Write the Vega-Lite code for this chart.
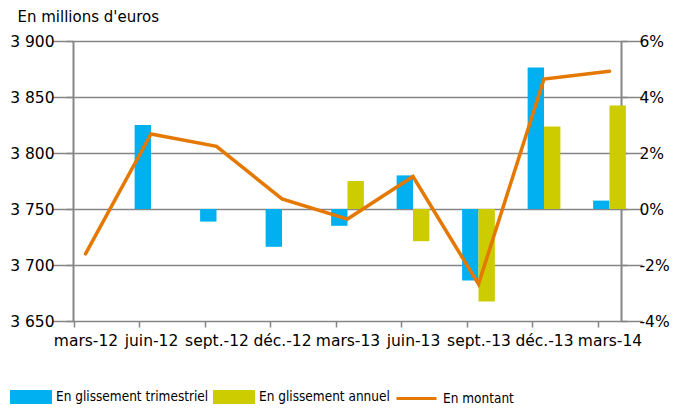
{
  "$schema": "https://vega.github.io/schema/vega-lite/v6.json",
  "width": 548,
  "height": 280,
  "autosize": {"type": "none"},
  "padding": {"left": 73, "top": 41, "right": 67, "bottom": 88},
  "background": "white",
  "config": {
    "view": {"stroke": null},
    "font": "DejaVu Sans",
    "axis": {
      "labelFont": "DejaVu Sans",
      "labelFontSize": 15.5,
      "labelColor": "#000000",
      "domainColor": "#868686",
      "tickColor": "#868686",
      "gridColor": "#868686"
    }
  },
  "datasets": {
    "barres": [
      {"mois": "juin-12", "serie": "En glissement trimestriel", "valeur": 3.0},
      {"mois": "sept.-12", "serie": "En glissement trimestriel", "valeur": -0.45},
      {"mois": "déc.-12", "serie": "En glissement trimestriel", "valeur": -1.35},
      {"mois": "mars-13", "serie": "En glissement trimestriel", "valeur": -0.6},
      {"mois": "mars-13", "serie": "En glissement annuel", "valeur": 1.0},
      {"mois": "juin-13", "serie": "En glissement trimestriel", "valeur": 1.2},
      {"mois": "juin-13", "serie": "En glissement annuel", "valeur": -1.15},
      {"mois": "sept.-13", "serie": "En glissement trimestriel", "valeur": -2.55},
      {"mois": "sept.-13", "serie": "En glissement annuel", "valeur": -3.3},
      {"mois": "déc.-13", "serie": "En glissement trimestriel", "valeur": 5.05},
      {"mois": "déc.-13", "serie": "En glissement annuel", "valeur": 2.95},
      {"mois": "mars-14", "serie": "En glissement trimestriel", "valeur": 0.3},
      {"mois": "mars-14", "serie": "En glissement annuel", "valeur": 3.7}
    ],
    "montants": [
      {"mois": "mars-12", "montant": 3710},
      {"mois": "juin-12", "montant": 3817},
      {"mois": "sept.-12", "montant": 3806},
      {"mois": "déc.-12", "montant": 3759},
      {"mois": "mars-13", "montant": 3741},
      {"mois": "juin-13", "montant": 3779},
      {"mois": "sept.-13", "montant": 3683},
      {"mois": "déc.-13", "montant": 3866},
      {"mois": "mars-14", "montant": 3873}
    ]
  },
  "encoding": {
    "x": {
      "field": "mois",
      "type": "nominal",
      "sort": null,
      "scale": {
        "domain": ["mars-12", "juin-12", "sept.-12", "déc.-12", "mars-13", "juin-13", "sept.-13", "déc.-13", "mars-14"],
        "range": [-20.25, 569.25],
        "paddingInner": 0,
        "paddingOuter": 0
      },
      "axis": {
        "title": null,
        "domain": false,
        "labelAngle": 0,
        "tickSize": 6,
        "tickWidth": 1.5,
        "tickOffset": -12,
        "labelOffset": 12,
        "labelPadding": 6,
        "labelLimit": 200
      }
    }
  },
  "layer": [
    {
      "data": {"name": "barres"},
      "mark": {"type": "bar"},
      "encoding": {
        "xOffset": {
          "field": "serie",
          "type": "nominal",
          "scale": {
            "domain": ["En glissement trimestriel", "En glissement annuel"],
            "paddingInner": 0,
            "paddingOuter": 1.18
          }
        },
        "y": {
          "field": "valeur",
          "type": "quantitative",
          "scale": {"domain": [-4, 6], "nice": false, "zero": false},
          "axis": {
            "orient": "right",
            "title": null,
            "values": [-4, -2, 0, 2, 4, 6],
            "labelExpr": "datum.value + '%'",
            "grid": false,
            "domainWidth": 2,
            "tickSize": 6,
            "tickWidth": 1.5,
            "labelPadding": 12
          }
        },
        "color": {
          "field": "serie",
          "type": "nominal",
          "scale": {
            "domain": ["En glissement trimestriel", "En glissement annuel"],
            "range": ["#00B0F0", "#CCCC00"]
          },
          "legend": {
            "orient": "none",
            "legendX": -63,
            "legendY": 335,
            "direction": "horizontal",
            "title": null,
            "symbolType": "M-1,-0.333H1V0.333H-1Z",
            "symbolSize": 1764,
            "symbolStrokeWidth": 0,
            "symbolOpacity": 1,
            "labelFont": "DejaVu Sans Condensed, DejaVu Sans",
            "labelFontSize": 13.5,
            "labelColor": "#000000",
            "labelOffset": 4,
            "columnPadding": 4,
            "labelLimit": 300
          }
        }
      }
    },
    {
      "data": {"name": "montants"},
      "mark": {"type": "line", "strokeWidth": 3.5, "strokeCap": "round"},
      "encoding": {
        "y": {
          "field": "montant",
          "type": "quantitative",
          "scale": {"domain": [3650, 3900], "nice": false, "zero": false},
          "axis": {
            "orient": "left",
            "title": "En millions d'euros",
            "titleAngle": 0,
            "titleX": -56,
            "titleY": -20,
            "titleAlign": "left",
            "titleBaseline": "alphabetic",
            "titleFont": "DejaVu Sans",
            "titleFontSize": 15,
            "titleFontWeight": "normal",
            "titleColor": "#000000",
            "values": [3650, 3700, 3750, 3800, 3850, 3900],
            "labelExpr": "replace(format(datum.value, ','), ',', ' ')",
            "grid": true,
            "gridWidth": 1.5,
            "domainWidth": 2,
            "tickSize": 7,
            "tickWidth": 1.5,
            "labelPadding": 12
          }
        },
        "stroke": {
          "datum": "En montant",
          "type": "nominal",
          "scale": {"domain": ["En montant"], "range": ["#E47800"]},
          "legend": {
            "orient": "none",
            "legendX": 322,
            "legendY": 336,
            "title": null,
            "symbolType": "stroke",
            "symbolSize": 1600,
            "symbolStrokeWidth": 3,
            "labelFont": "DejaVu Sans Condensed, DejaVu Sans",
            "labelFontSize": 13.5,
            "labelColor": "#000000",
            "labelOffset": 5,
            "labelLimit": 300
          }
        }
      }
    }
  ],
  "resolve": {"scale": {"y": "independent"}}
}
